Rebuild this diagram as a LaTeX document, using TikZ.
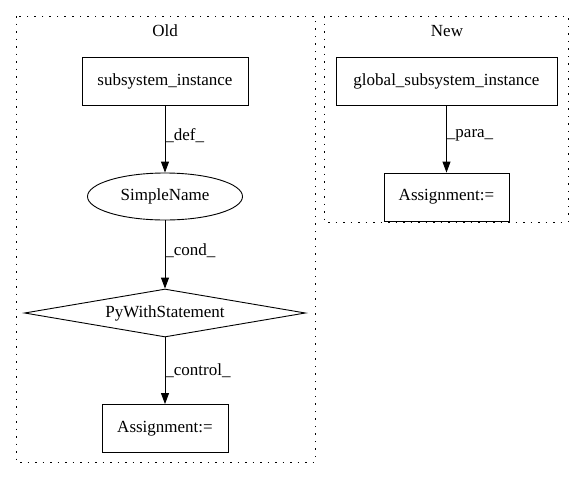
\documentclass[tikz,border=0pt]{standalone}
\usepackage{fontspec}
\setmainfont{Liberation Serif}
\usetikzlibrary{shapes.geometric,arrows.meta}
\begin{document}
\begin{tikzpicture}[x=1pt,y=-1pt,
  every node/.style={font=\fontsize{17}{20}\selectfont, inner sep=0pt},
  box/.style={draw, line width=0.9pt, rectangle, minimum height=48pt},
  cluster/.style={draw, line width=1pt, dash pattern=on 1.5pt off 6pt},
  edge/.style={draw, line width=0.9pt, -{Triangle[length=11pt,width=8pt]}},
  elabel/.style={anchor=west}]
\useasboundingbox (0,0) rectangle (584,480);
\draw[cluster] (16,16) rectangle (315,462);
\draw[cluster] (324,16) rectangle (568,222);
\node (oldlbl) at (165,31) {Old};
\node (newlbl) at (447,31) {New};
\node[box, minimum width=166pt] (si) at (165,81) {subsystem\_instance};
\node[draw, line width=0.9pt, ellipse, minimum width=155pt, minimum height=47pt] (sn) at (165,196.5) {SimpleName};
\node[draw, line width=0.9pt, diamond, aspect=5.85, minimum width=281pt, minimum height=48pt] (pw) at (165,313) {PyWithStatement};
\node[box, minimum width=126pt] (a1) at (165,428.5) {Assignment:=};
\node[box, minimum width=221pt] (gsi) at (446.5,81) {global\_subsystem\_instance};
\node[box, minimum width=125pt] (a2) at (446.5,197) {Assignment:=};
\draw[edge] (si) -- node[elabel, pos=0.45] {\_def\_} (sn);
\draw[edge] (sn) -- node[elabel, pos=0.45] {\_cond\_} (pw);
\draw[edge] (pw) -- node[elabel, pos=0.5] {\_control\_} (a1);
\draw[edge] (gsi) -- node[elabel, pos=0.45] {\_para\_} (a2);
\end{tikzpicture}
\end{document}
